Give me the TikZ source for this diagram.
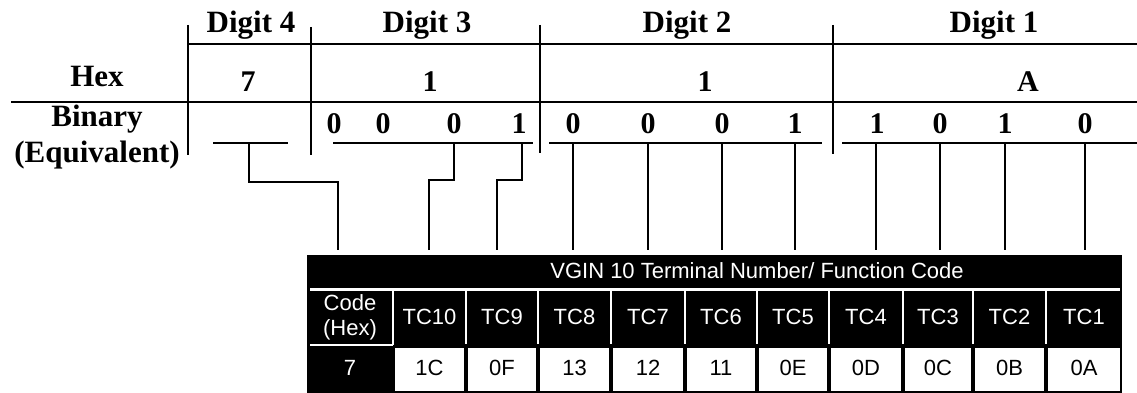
\documentclass[tikz,border=0pt]{standalone}
\usepackage{fontspec}
\setmainfont{Liberation Serif}
\newfontfamily\tabfont{Liberation Sans}
\begin{document}
\begin{tikzpicture}[x=1pt,y=-1pt,
  lbl/.style={font=\fontsize{31}{33}\selectfont\bfseries,inner sep=0pt,anchor=base},
  dig/.style={font=\fontsize{30}{30}\selectfont\bfseries,inner sep=0pt,anchor=base},
  rulel/.style={line width=2pt},
  sepl/.style={line width=2.6pt},
  wire/.style={line width=2.3pt},
  wsep/.style={white,line width=2.5pt},
  tw/.style={font=\tabfont\fontsize{22}{24}\selectfont,text=white,inner sep=0pt},
  tb/.style={font=\tabfont\fontsize{22}{24}\selectfont,text=black,inner sep=0pt},
  cellw/.style={fill=white}
]
\useasboundingbox (0,0) rectangle (1137,393);

% ---------- labels ----------
\node[lbl] (d4) at (251,33) {Digit 4};
\node[lbl] (d3) at (427,33) {Digit 3};
\node[lbl] (d2) at (687,33) {Digit 2};
\node[lbl] (d1) at (994,33) {Digit 1};
\node[lbl] (hex) at (97,87) {Hex};
\node[lbl] (bin) at (97,127) {Binary};
\node[lbl] (equ) at (97,162) {(Equivalent)};

% hex digits
\node[dig] (h4) at (248,92) {7};
\node[dig] (h3) at (430,92) {1};
\node[dig] (h2) at (705,92) {1};
\node[dig] (h1) at (1028,92) {A};

% binary digits
\node[dig] (b31) at (334,133) {0};
\node[dig] (b32) at (383,133) {0};
\node[dig] (b33) at (454,133) {0};
\node[dig] (b34) at (519,133) {1};
\node[dig] (b21) at (573,133) {0};
\node[dig] (b22) at (648,133) {0};
\node[dig] (b23) at (722,133) {0};
\node[dig] (b24) at (795,133) {1};
\node[dig] (b11) at (877,133) {1};
\node[dig] (b12) at (940,133) {0};
\node[dig] (b13) at (1005,133) {1};
\node[dig] (b14) at (1085,133) {0};

% ---------- grid lines ----------
\draw[rulel] (188,44) -- (1137,44);
\draw[rulel] (11,102) -- (1137,102);
\draw[sepl] (188,25) -- (188,155);
\draw[sepl] (311,27) -- (311,155);
\draw[sepl] (540,25) -- (540,153);
\draw[sepl] (833,25) -- (833,154);
% binary underlines
\draw[rulel] (213,143) -- (288,143);
\draw[rulel] (333,143) -- (533,143);
\draw[rulel] (549,143) -- (822,143);
\draw[rulel] (842,143) -- (1137,143);

% ---------- table ----------
\fill[black] (307,255) rectangle (1122,393);
\node[tw] (title) at (757,271) {VGIN 10 Terminal Number/ Function Code};
\draw[wsep] (310,289.5) -- (1120,289.5);
\draw[wsep] (310,345) -- (393,345);
\draw[wsep] (393,289) -- (393,345);
\foreach \xx in {466,538,611,685,757,829,903,973,1046} {
  \draw[wsep] (\xx,289) -- (\xx,344);
}
% white value cells
\foreach \l/\r in {393/466,466/538,538/611,611/685,685/757,757/829,829/903,903/973,973/1046,1046/1122} {
  \fill[white] (\l+2,347.5) rectangle (\r-2,391);
}
% header cells text
\node[tw,align=center,font=\tabfont\fontsize{22}{25}\selectfont] (code) at (350,317) {Code\\(Hex)};
\node[tw] (tc10) at (429.5,317) {TC10};
\node[tw] (tc9) at (502,317) {TC9};
\node[tw] (tc8) at (574.5,317) {TC8};
\node[tw] (tc7) at (648,317) {TC7};
\node[tw] (tc6) at (721,317) {TC6};
\node[tw] (tc5) at (793,317) {TC5};
\node[tw] (tc4) at (866,317) {TC4};
\node[tw] (tc3) at (938,317) {TC3};
\node[tw] (tc2) at (1009.5,317) {TC2};
\node[tw] (tc1) at (1084,317) {TC1};
% values
\node[tw] (v0) at (350,368) {7};
\node[tb] (v10) at (429.5,368) {1C};
\node[tb] (v9) at (502,368) {0F};
\node[tb] (v8) at (574.5,368) {13};
\node[tb] (v7) at (648,368) {12};
\node[tb] (v6) at (721,368) {11};
\node[tb] (v5) at (793,368) {0E};
\node[tb] (v4) at (866,368) {0D};
\node[tb] (v3) at (938,368) {0C};
\node[tb] (v2) at (1009.5,368) {0B};
\node[tb] (v1) at (1084,368) {0A};

% ---------- connectors ----------
\coordinate (s4) at (249,143);
\coordinate (s33) at (454,143);
\coordinate (s34) at (522,143);
\coordinate (e0) at (338,250);
\coordinate (e10) at (429,250);
\coordinate (e9) at (497,250);
\draw[wire] (s4) -- (249,182) -| (e0);
\draw[wire] (s33) -- (454,180) -| (e10);
\draw[wire] (s34) -- (522,180) -| (e9);
\foreach \xx in {573,648,722,795,876,940,1005,1085} {
  \draw[wire] (\xx,143) -- (\xx,250);
}
\end{tikzpicture}
\end{document}
